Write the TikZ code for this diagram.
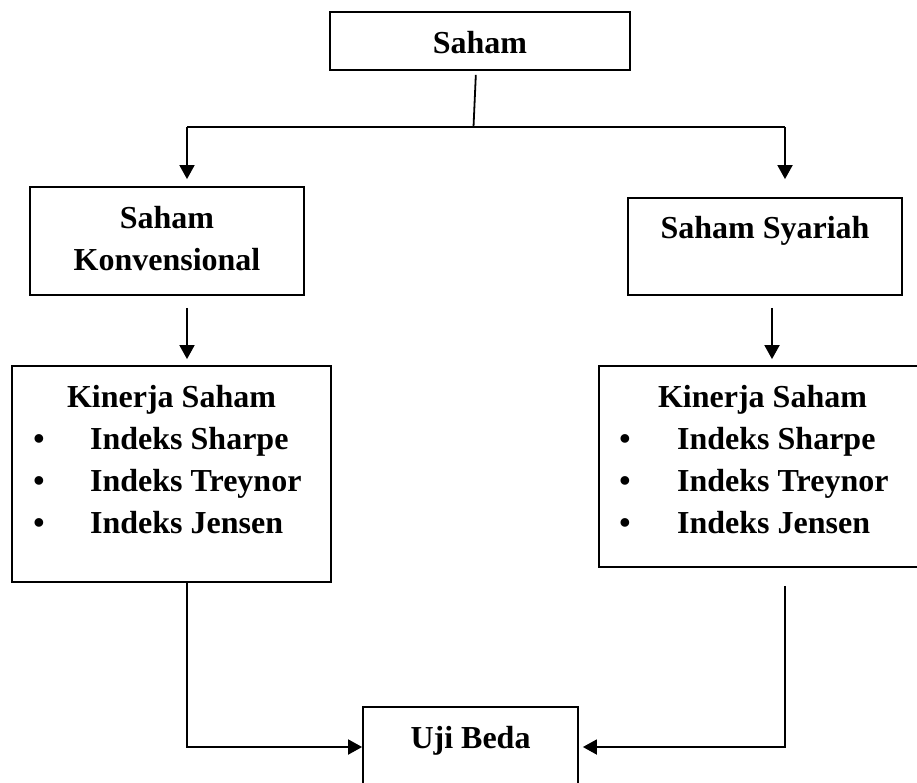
\documentclass[tikz,border=0pt]{standalone}
\usepackage{fontspec}
\setmainfont{Liberation Serif}
\usetikzlibrary{arrows.meta}
\begin{document}
\begin{tikzpicture}[x=1pt,y=-1pt,
  box/.style={draw=black,line width=1.8pt,rectangle,inner sep=0pt},
  conn/.style={draw=black,line width=1.8pt},
  arr/.style={conn,-{Triangle[length=14pt,width=15pt]}},
  txt/.style={inner sep=0pt,font=\fontsize{32}{38}\selectfont\bfseries,anchor=base},
  item/.style={txt,anchor=base west},
  bul/.style={txt,anchor=base}]
\clip (0,0) rectangle (917,782);
\fill[white] (0,0) rectangle (917,782);
% boxes
\node[box,minimum width=300pt,minimum height=58pt] (saham) at (480,41) {};
\node[box,minimum width=274pt,minimum height=108pt] (konv) at (167,241) {};
\node[box,minimum width=274pt,minimum height=97pt] (syar) at (765,246.5) {};
\node[box,minimum width=319pt,minimum height=216pt] (kinL) at (171.5,474) {};
\node[box,minimum width=331pt,minimum height=201pt] (kinR) at (764.5,466.5) {};
\node[box,minimum width=215pt,minimum height=80pt] (uji) at (470.5,747) {};
% texts
\node[txt] (tSaham) at (480,53) {Saham};
\node[txt] (tKonv1) at (167,228) {Saham};
\node[txt] (tKonv2) at (167,270) {Konvensional};
\node[txt] (tSyar) at (765,238) {Saham Syariah};
\node[txt] (tKL) at (171.5,407) {Kinerja Saham};
\node[bul] (bL1) at (39,449) {•};
\node[bul] (bL2) at (39,491) {•};
\node[bul] (bL3) at (39,533) {•};
\node[item] (iL1) at (90,449) {Indeks Sharpe};
\node[item] (iL2) at (90,491) {Indeks Treynor};
\node[item] (iL3) at (90,533) {Indeks Jensen};
\node[txt] (tKR) at (762.5,407) {Kinerja Saham};
\node[bul] (bR1) at (625,449) {•};
\node[bul] (bR2) at (625,491) {•};
\node[bul] (bR3) at (625,533) {•};
\node[item] (iR1) at (677,449) {Indeks Sharpe};
\node[item] (iR2) at (677,491) {Indeks Treynor};
\node[item] (iR3) at (677,533) {Indeks Jensen};
\node[txt] (tUji) at (470.5,748) {Uji Beda};
% connector coordinates
\coordinate (j) at (473.5,127);
\coordinate (bl) at (187,127);
\coordinate (br) at (785,127);
\coordinate (cr) at (772,300);
% connectors
\draw[conn,shorten <=4pt] ([xshift=-4pt]saham.south) -- (j);
\draw[conn] (bl) -- (br);
\draw[arr,shorten >=7pt] (bl) -- (bl |- konv.north);
\draw[arr,shorten >=18pt] (br) -- (br |- syar.north);
\draw[arr,shorten <=12pt,shorten >=6pt] (konv.south -| bl) -- (kinL.north -| bl);
\draw[arr,shorten <=12pt,shorten >=6pt] (syar.south -| cr) -- (kinR.north -| cr);
\draw[arr] (kinL.south -| bl) |- (uji.west);
\draw[arr,shorten <=18pt,shorten >=4pt] (kinR.south -| br) |- (uji.east);
\end{tikzpicture}
\end{document}
